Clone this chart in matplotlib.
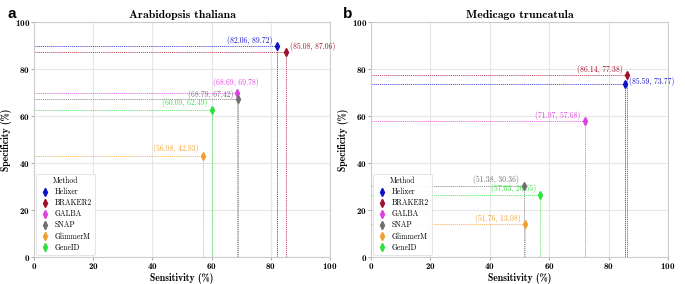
import numpy as np
import matplotlib.pyplot as plt

plt.rcParams['axes.formatter.use_mathtext'] = True

methods = ['Helixer', 'BRAKER2', 'GALBA', 'SNAP', 'GlimmerM', 'GeneID']
colors = ['#1010c8', '#a01028', '#e040e0', '#707070', '#f0a030', '#30e040']

# Arabidopsis thaliana
sens_a = [82.06, 85.08, 68.69, 68.79, 56.98, 60.09]
spec_a = [89.72, 87.06, 69.78, 67.42, 42.93, 62.49]
# Medicago truncatula
sens_b = [85.59, 86.14, 71.97, 51.38, 51.76, 57.03]
spec_b = [73.77, 77.38, 57.68, 30.36, 13.98, 26.55]

# label offsets (points) and alignment per method, per panel
offs_a = [(-3, 1, 'right'), (3, 1, 'left'), (-1, 4, 'center'),
          (-3, 0, 'right'), (-3, 2, 'right'), (-3, 2, 'right')]
offs_b = [(3, -2, 'left'), (-3, 1, 'right'), (-3, 1, 'right'),
          (-3, 1, 'right'), (-3, 1, 'right'), (-3, 1, 'right')]

reg = 'cmr10'
bold = 'cmb10'

fig = plt.figure(figsize=(6.85, 2.84), dpi=100)
ax_a = fig.add_axes([34 / 685, 27 / 284, 296 / 685, 235 / 284])
ax_b = fig.add_axes([371 / 685, 27 / 284, 297 / 685, 235 / 284])


def draw(ax, sens, spec, offs, title):
    for m, c, x, y, (dx, dy, ha) in zip(methods, colors, sens, spec, offs):
        ax.plot([0, x], [y, y], ls=(0, (1.5, 1)), color=c, lw=0.6, alpha=0.8)
        ax.plot([x, x], [0, y], ls=(0, (1.5, 1)), color=c, lw=0.6, alpha=0.8)
        ax.errorbar(x, y, yerr=1.3, fmt='d', ms=4, color=c, elinewidth=1.0,
                    label=m, zorder=5)
        ax.annotate('({:.2f}, {:.2f})'.format(x, y), (x, y),
                    xytext=(dx, dy), textcoords='offset points', ha=ha,
                    va='bottom', fontsize=5.5, color=c, family=reg)
    ax.set_xlim(0, 100)
    ax.set_ylim(0, 100)
    ax.set_xticks(np.arange(0, 101, 20))
    ax.set_yticks(np.arange(0, 101, 20))
    ax.grid(color='#e6e6e6', lw=0.8)
    ax.set_axisbelow(True)
    for s in ax.spines.values():
        s.set_color('#cccccc')
        s.set_linewidth(0.8)
    ax.tick_params(length=2, width=0.6, color='#999999', labelsize=6.5, pad=1)
    for lab in ax.get_xticklabels() + ax.get_yticklabels():
        lab.set_family(bold)
    ax.set_xlabel('Sensitivity (%)', family=bold, fontsize=7, labelpad=1)
    ax.set_ylabel('Specificity (%)', family=bold, fontsize=7, labelpad=2)
    ax.set_title(title, family=bold, fontsize=8.5, pad=3)
    leg = ax.legend(title='Method', loc='lower left',
                    title_fontsize=5.5, prop={'family': reg, 'size': 5.5},
                    handletextpad=0.6, labelspacing=0.35, borderpad=0.4,
                    handlelength=1.4, framealpha=0.9, edgecolor='#dddddd',
                    fancybox=True, borderaxespad=0.3)
    leg.get_title().set_family(reg)
    leg.get_frame().set_linewidth(0.6)


draw(ax_a, sens_a, spec_a, offs_a, 'Arabidopsis thaliana')
draw(ax_b, sens_b, spec_b, offs_b, 'Medicago truncatula')

fig.text(8 / 685, 1 - 18 / 284, 'a', fontsize=11, fontweight='bold',
         family='Liberation Sans')
fig.text(343 / 685, 1 - 18 / 284, 'b', fontsize=11, fontweight='bold',
         family='Liberation Sans')

plt.savefig('out.png', dpi=100)
